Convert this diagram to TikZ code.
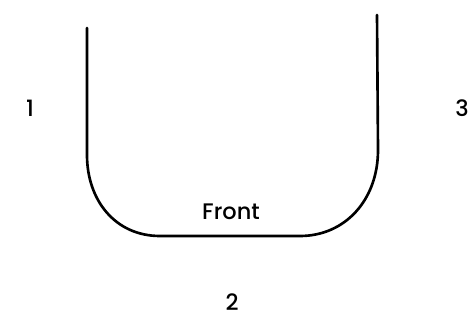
\documentclass[tikz,border=0pt]{standalone}
\usepackage{fontspec}
\setmainfont{Poppins}
\newfontfamily\labelfont{Poppins Medium}
\usetikzlibrary{positioning}

\begin{document}
\begin{tikzpicture}[
    x=0.02cm, y=-0.02cm,
    wall/.style={draw=black, line width=1.5pt, line cap=round, line join=round},
    side/.style={font=\labelfont\fontsize{12.8}{14}\selectfont, inner sep=0pt},
]
\useasboundingbox (0,0) rectangle (472,320);

% Outline of the U
\coordinate (ltop) at (87,28);
\coordinate (lbend) at (87,155);
\coordinate (bleft) at (160,236);
\coordinate (bright) at (300,236);
\coordinate (rbend) at (378,150);
\coordinate (rtop) at (377,15);

\draw[wall] (ltop) -- (lbend)
    .. controls (87,200) and (115,236) .. (bleft) -- (bright)
    .. controls (345,236) and (378,200) .. (rbend) -- (rtop);

% Labels
\node[side] (front) at (231,212) {Front};
\node[side] (one) at (30,108) {1};
\node[side] (three) at (462,108) {3};
\node[side] (two) at (232,302) {2};

\end{tikzpicture}
\end{document}
